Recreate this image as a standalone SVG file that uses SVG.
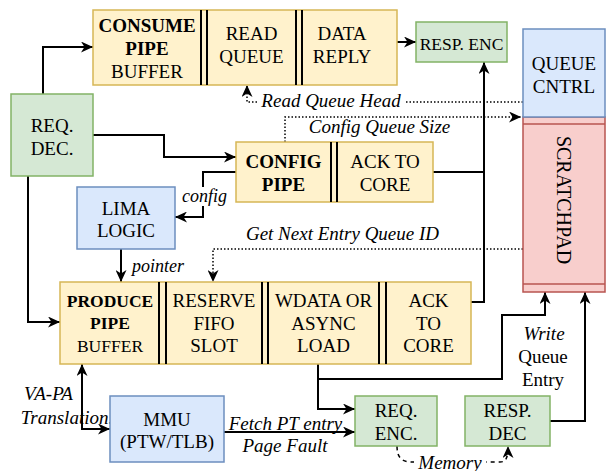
<svg xmlns="http://www.w3.org/2000/svg" width="608" height="471" viewBox="0 0 608 471">
<style>
.y{fill:#fff2cc;stroke:#d6b656;stroke-width:1.5}
.g{fill:#d5e8d4;stroke:#82b366;stroke-width:1.5}
.b{fill:#dae8fc;stroke:#6c8ebf;stroke-width:1.5}
.r{fill:#f8cecc;stroke:#b85450;stroke-width:1.5}
.t{font-family:"Liberation Serif","Times New Roman",serif;font-size:19px;fill:#000;text-anchor:middle}
.s{font-size:17.5px}
.bd{font-weight:bold}
.i{font-style:italic}
.dv{stroke:#000;stroke-width:2}
.e{fill:none;stroke:#000;stroke-width:2}
.dot{fill:none;stroke:#000;stroke-width:1.5;stroke-dasharray:1.5 2}
.dash{fill:none;stroke:#000;stroke-width:1.5;stroke-dasharray:4 4}
.wb{fill:#fff}
</style>
<defs>
<marker id="a" viewBox="0 0 12 11" refX="12" refY="5.5" markerWidth="12" markerHeight="11" markerUnits="userSpaceOnUse" orient="auto-start-reverse">
<path d="M0,0 L12,5.5 L0,11 L3.5,5.5 z" fill="#000"/>
</marker>
</defs>
<rect width="608" height="471" fill="#fff"/>

<g id="connectors">
<path class="e" d="M43,94 V47 H93" marker-end="url(#a)"/>
<path class="e" d="M93,135 H164 V157 H236" marker-end="url(#a)"/>
<path class="e" d="M28,176 V322 H60" marker-end="url(#a)"/>
<path class="e" d="M236,172 H203 V217 H175" marker-end="url(#a)"/>
<path class="e" d="M121,249 V282" marker-end="url(#a)"/>
<path class="e" d="M82,364 V429 H110" marker-start="url(#a)" marker-end="url(#a)"/>
<path class="e" d="M224,432 H355" marker-end="url(#a)"/>
<path class="e" d="M318,364 V409 H355" marker-end="url(#a)"/>
<path class="e" d="M318,379 H502 V315 H545 V292" marker-end="url(#a)"/>
<path class="e" d="M550,421 H585 V292" marker-end="url(#a)"/>
<path class="dash" d="M397,446 C397,458 402,462 412,462 L500,462 C506,462 508,458 508,446" marker-end="url(#a)"/>
<path class="e" d="M433,172 H484 V62" marker-end="url(#a)"/>
<path class="e" d="M471,302 H484 V172"/>
<path class="e" d="M383,42 H416" marker-end="url(#a)"/>
<path class="dot" d="M523,102 H247 V85" marker-end="url(#a)"/>
<path class="dot" d="M285,142 V117 H521" marker-end="url(#a)"/>
<path class="dot" d="M523,249 H213 V282" marker-end="url(#a)"/>
<rect class="wb" x="257" y="92" width="149" height="19"/>
<rect class="wb" x="182" y="187" width="46" height="19"/>
<rect class="wb" x="414" y="455" width="72" height="16"/>
<text class="t i" x="331" y="107">Read Queue Head</text>
<text class="t i" x="379.5" y="133">Config Queue Size</text>
<text class="t i" x="342.5" y="240">Get Next Entry Queue ID</text>
<text class="t i" x="204.5" y="202" style="font-size:18px">config</text>
<text class="t i" x="158" y="272" style="font-size:18px">pointer</text>
<text class="t i" x="48.5" y="400">VA-PA</text>
<text class="t i" x="67" y="424">Translation.</text>
<text class="t i" x="285.5" y="430">Fetch PT entry</text>
<text class="t i" x="285" y="452">Page Fault</text>
<text class="t i" x="450" y="469">Memory</text>
<text class="t i" x="544" y="340">Write</text>
<text class="t" x="543" y="363">Queue</text>
<text class="t" x="543" y="386">Entry</text>
</g>

<g id="consume-pipe">
<rect class="y" x="93" y="10" width="304" height="75"/>
<line class="dv" x1="201" y1="10" x2="201" y2="85"/>
<line class="dv" x1="207" y1="10" x2="207" y2="85"/>
<line class="dv" x1="296" y1="10" x2="296" y2="85"/>
<line class="dv" x1="302" y1="10" x2="302" y2="85"/>
<text class="t bd" x="147" y="32">CONSUME</text>
<text class="t bd" x="147" y="55">PIPE</text>
<text class="t" x="147" y="78">BUFFER</text>
<text class="t" x="251.5" y="40">READ</text>
<text class="t" x="251.5" y="62.5">QUEUE</text>
<text class="t" x="342" y="40">DATA</text>
<text class="t" x="342" y="62.5">REPLY</text>
</g>

<g id="resp-enc">
<rect class="g" x="416" y="22" width="91" height="40"/>
<text class="t s" x="461.5" y="49.5">RESP. ENC</text>
</g>

<g id="scratchpad">
<rect class="r" x="523" y="117" width="82" height="175"/>
<line x1="523" y1="124" x2="605" y2="124" stroke="#b85450" stroke-width="1.5"/>
<line x1="523" y1="284" x2="605" y2="284" stroke="#b85450" stroke-width="1.5"/>
<text class="t" transform="translate(557,200) rotate(90)" style="font-size:20px">SCRATCHPAD</text>
</g>

<g id="queue-cntrl">
<rect class="b" x="523" y="29" width="82" height="88"/>
<text class="t" x="564" y="69.5">QUEUE</text>
<text class="t" x="564" y="93">CNTRL</text>
</g>

<g id="req-dec">
<rect class="g" x="11" y="94" width="82" height="82"/>
<text class="t" x="52" y="132">REQ.</text>
<text class="t" x="52" y="155">DEC.</text>
</g>

<g id="config-pipe">
<rect class="y" x="236" y="142" width="197" height="60"/>
<line class="dv" x1="331" y1="142" x2="331" y2="202"/>
<line class="dv" x1="337" y1="142" x2="337" y2="202"/>
<text class="t bd" x="283.5" y="168">CONFIG</text>
<text class="t bd" x="283.5" y="190.5">PIPE</text>
<text class="t" x="385" y="168">ACK TO</text>
<text class="t" x="385" y="190.5">CORE</text>
</g>

<g id="lima-logic">
<rect class="b" x="77" y="187" width="98" height="62"/>
<text class="t" x="126" y="214.5">LIMA</text>
<text class="t" x="126" y="237">LOGIC</text>
</g>

<g id="produce-pipe">
<rect class="y" x="60" y="282" width="411" height="82"/>
<line class="dv" x1="159" y1="282" x2="159" y2="364"/>
<line class="dv" x1="166" y1="282" x2="166" y2="364"/>
<line class="dv" x1="262" y1="282" x2="262" y2="364"/>
<line class="dv" x1="268" y1="282" x2="268" y2="364"/>
<line class="dv" x1="379" y1="282" x2="379" y2="364"/>
<line class="dv" x1="386" y1="282" x2="386" y2="364"/>
<text class="t bd s" x="110" y="306.5">PRODUCE</text>
<text class="t bd s" x="110" y="329">PIPE</text>
<text class="t s" x="110" y="351.5">BUFFER</text>
<text class="t" x="214" y="307">RESERVE</text>
<text class="t" x="214" y="329.5">FIFO</text>
<text class="t" x="214" y="352">SLOT</text>
<text class="t" x="323.5" y="307">WDATA OR</text>
<text class="t" x="323.5" y="329.5">ASYNC</text>
<text class="t" x="323.5" y="352">LOAD</text>
<text class="t" x="428.5" y="307">ACK</text>
<text class="t" x="428.5" y="329.5">TO</text>
<text class="t" x="428.5" y="352">CORE</text>
</g>

<g id="mmu">
<rect class="b" x="110" y="396" width="114" height="66"/>
<text class="t" x="167" y="426">MMU</text>
<text class="t" x="167" y="448">(PTW/TLB)</text>
</g>

<g id="req-enc">
<rect class="g" x="355" y="396" width="82" height="50"/>
<text class="t" x="396" y="417">REQ.</text>
<text class="t" x="396" y="440">ENC.</text>
</g>

<g id="resp-dec">
<rect class="g" x="465" y="396" width="85" height="50"/>
<text class="t" x="507.5" y="417">RESP.</text>
<text class="t" x="507.5" y="440">DEC</text>
</g>
</svg>
